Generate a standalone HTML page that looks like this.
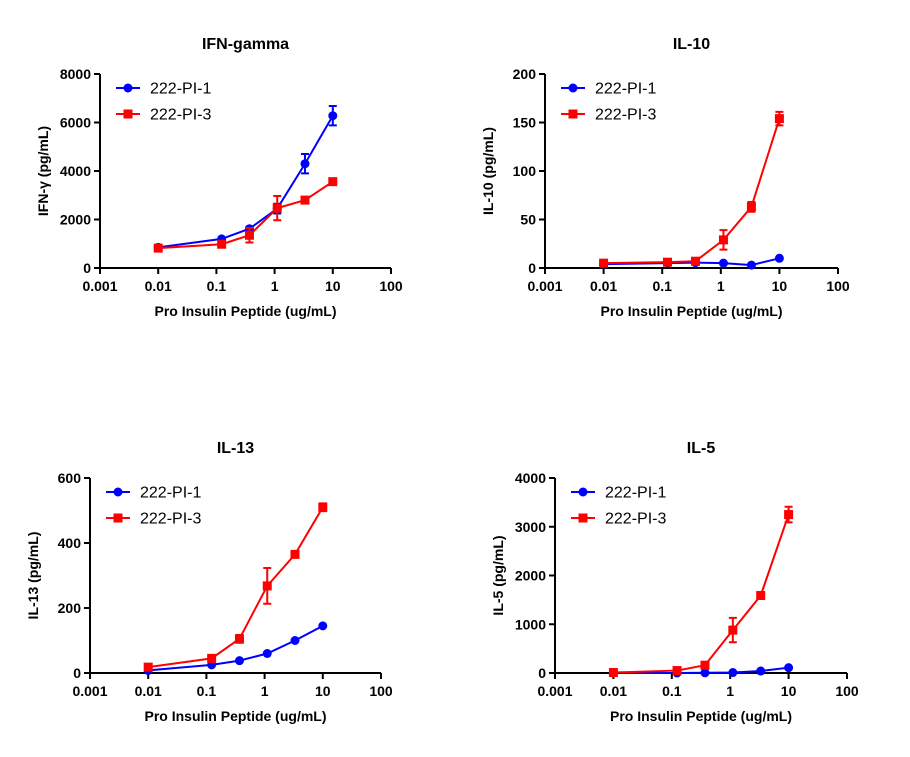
<!DOCTYPE html>
<html><head><meta charset="utf-8"><style>
body{margin:0;background:#fff;}
svg{display:block;font-family:"Liberation Sans",Arial,sans-serif;}
</style></head><body>
<svg id="c" width="910" height="757"></svg>
<script>
const xVals=[0.01,0.123,0.37,1.11,3.33,10];
const xTickLabels=["0.001","0.01","0.1","1","10","100"];
const ifnBlue=[850,1200,1620,2450,4300,6280];
const ifnBlueErr=[80,60,80,200,400,400];
const ifnRed=[820,980,1350,2470,2800,3560];
const ifnRedErr=[60,60,300,500,60,60];
const il10Blue=[4,5,5.5,5,3,10];
const il10BlueErr=[0,0,0,0,0,0];
const il10Red=[5,6,7,29,63,154];
const il10RedErr=[1,1,1,10,5,7];
const il13Blue=[8,25,38,60,100,145];
const il13BlueErr=[0,0,0,0,0,0];
const il13Red=[18,45,105,268,365,510];
const il13RedErr=[3,5,12,55,8,12];
const il5Blue=[0,0,5,10,40,110];
const il5BlueErr=[0,0,0,0,0,0];
const il5Red=[10,50,160,880,1590,3250];
const il5RedErr=[0,0,0,250,30,160];
const ifnTicks=[0,2000,4000,6000,8000];
const il10Ticks=[0,50,100,150,200];
const il13Ticks=[0,200,400,600];
const il5Ticks=[0,1000,2000,3000,4000];

const NS="http://www.w3.org/2000/svg";
const svg=document.getElementById('c');
function mk(tag,attrs,parent,name){const e=document.createElementNS(NS,tag);for(const k in attrs)e.setAttribute(k,attrs[k]);


(parent||svg).appendChild(e);return e;}

function panel(p){
  const g=mk('g',{},svg,p.name);
  const xs=v=>p.x0+(Math.log10(v)+3)/5*(p.x1-p.x0);
  const ymax=p.ticks[p.ticks.length-1];
  const ys=v=>p.yb-v/ymax*(p.yb-p.yt);
  const t=mk('text',{x:(p.x0+p.x1)/2,y:p.yt-25,'text-anchor':'middle','font-size':16,'font-weight':'bold'},g,'chart-title');t.textContent=p.title;
  mk('line',{x1:p.x0,y1:p.yt,x2:p.x0,y2:p.yb+1,stroke:'#000','stroke-width':2},g,'y-axis');
  mk('line',{x1:p.x0-1,y1:p.yb,x2:p.x1,y2:p.yb,stroke:'#000','stroke-width':2},g,'x-axis');
  p.ticks.forEach(v=>{
    mk('line',{x1:p.x0-6,y1:ys(v),x2:p.x0,y2:ys(v),stroke:'#000','stroke-width':2},g,'y-tick');
    const l=mk('text',{x:p.x0-9,y:ys(v)+5,'text-anchor':'end','font-size':14,'font-weight':'bold'},g,'y-tick-label');l.textContent=v;
  });
  xTickLabels.forEach(s=>{
    const x=xs(parseFloat(s));
    mk('line',{x1:x,y1:p.yb,x2:x,y2:p.yb+6,stroke:'#000','stroke-width':2},g,'x-tick');
    const l=mk('text',{x:x,y:p.yb+23,'text-anchor':'middle','font-size':14,'font-weight':'bold'},g,'x-tick-label');l.textContent=s;
  });
  const xt=mk('text',{x:(p.x0+p.x1)/2,y:p.yb+48,'text-anchor':'middle','font-size':14,'font-weight':'bold'},g,'x-axis-title');xt.textContent='Pro Insulin Peptide (ug/mL)';
  const cy=(p.yt+p.yb)/2;
  const yt=mk('text',{x:p.x0-52,y:cy,'text-anchor':'middle','font-size':14,'font-weight':'bold',transform:`rotate(-90 ${p.x0-52} ${cy})`},g,'y-axis-title');yt.textContent=p.ylabel;
  const series=[[p.blue,p.blueErr,'#0000ff','circle','222-PI-1'],[p.red,p.redErr,'#ff0000','square','222-PI-3']];
  series.forEach(([vals,err,col,shape,lab],si)=>{
    const sg=mk('g',{},g,'series-'+lab);
    const pts=vals.map((v,i)=>xs(xVals[i])+','+ys(v)).join(' ');
    mk('polyline',{points:pts,fill:'none',stroke:col,'stroke-width':2},sg,'series-line');
    vals.forEach((v,i)=>{
      const x=xs(xVals[i]);
      if(err[i]>0){
        const a=ys(v+err[i]),b=ys(v-err[i]);
        mk('path',{d:`M${x},${a}V${b}M${x-4},${a}H${x+4}M${x-4},${b}H${x+4}`,stroke:col,'stroke-width':2,fill:'none'},sg,'error-bar');
      }
      if(shape==='circle')mk('circle',{cx:x,cy:ys(v),r:4.5,fill:col},sg,'data-point');
      else mk('rect',{x:x-4.5,y:ys(v)-4.5,width:9,height:9,fill:col},sg,'data-point');
    });
    const ly=p.yt+14+si*26,lx=p.x0+16;
    mk('line',{x1:lx,y1:ly,x2:lx+24,y2:ly,stroke:col,'stroke-width':2},g,'legend-line');
    if(shape==='circle')mk('circle',{cx:lx+12,cy:ly,r:4.5,fill:col},g,'legend-marker');
    else mk('rect',{x:lx+7.5,y:ly-4.5,width:9,height:9,fill:col},g,'legend-marker');
    const lt=mk('text',{x:lx+34,y:ly+5.5,'font-size':16},g,'legend-entry');lt.textContent=lab;
  });
}
panel({name:'ifn-gamma-chart',title:'IFN-gamma',ylabel:'IFN-γ (pg/mL)',x0:100,x1:391,yt:74,yb:268,ticks:ifnTicks,blue:ifnBlue,blueErr:ifnBlueErr,red:ifnRed,redErr:ifnRedErr});
panel({name:'il10-chart',title:'IL-10',ylabel:'IL-10 (pg/mL)',x0:545,x1:838,yt:74,yb:268,ticks:il10Ticks,blue:il10Blue,blueErr:il10BlueErr,red:il10Red,redErr:il10RedErr});
panel({name:'il13-chart',title:'IL-13',ylabel:'IL-13 (pg/mL)',x0:90,x1:381,yt:478,yb:673,ticks:il13Ticks,blue:il13Blue,blueErr:il13BlueErr,red:il13Red,redErr:il13RedErr});
panel({name:'il5-chart',title:'IL-5',ylabel:'IL-5 (pg/mL)',x0:555,x1:847,yt:478,yb:673,ticks:il5Ticks,blue:il5Blue,blueErr:il5BlueErr,red:il5Red,redErr:il5RedErr});
</script>
</body></html>
